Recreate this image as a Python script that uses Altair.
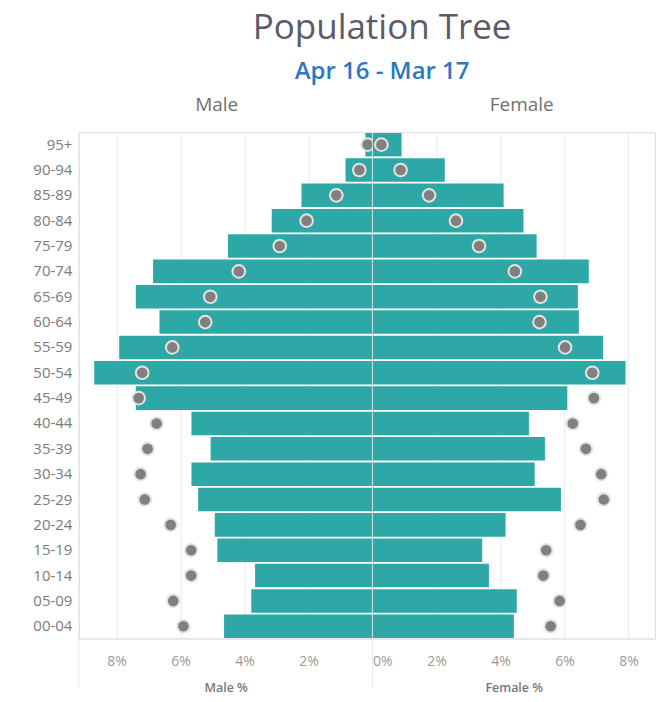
import altair as alt
import pandas as pd

ages = ["95+", "90-94", "85-89", "80-84", "75-79", "70-74", "65-69", "60-64",
        "55-59", "50-54", "45-49", "40-44", "35-39", "30-34", "25-29", "20-24",
        "15-19", "10-14", "05-09", "00-04"]
male_pct = [0.22, 0.84, 2.22, 3.15, 4.52, 6.86, 7.40, 6.66, 7.92, 8.70,
            7.40, 5.66, 5.06, 5.66, 5.45, 4.93, 4.85, 3.67, 3.79, 4.64]
male_ref = [0.15, 0.41, 1.13, 2.06, 2.90, 4.18, 5.07, 5.23, 6.26, 7.20,
            7.31, 6.75, 7.03, 7.25, 7.12, 6.31, 5.67, 5.67, 6.23, 5.91]
female_pct = [0.91, 2.26, 4.10, 4.72, 5.13, 6.76, 6.42, 6.45, 7.21, 7.91,
              6.09, 4.89, 5.39, 5.07, 5.89, 4.16, 3.43, 3.64, 4.51, 4.42]
female_ref = [0.28, 0.88, 1.77, 2.61, 3.33, 4.45, 5.25, 5.22, 6.02, 6.87,
              6.92, 6.26, 6.67, 7.15, 7.23, 6.50, 5.43, 5.34, 5.85, 5.57]
tick_values = [0, 2, 4, 6, 8]

df = pd.DataFrame({"age": ages, "male": male_pct, "male_ref": male_ref,
                   "female": female_pct, "female_ref": female_ref})

H = 507
WM = 294
WF = 283
MALE_MAX = 9.18
FEMALE_MAX = 8.83
FONT = "Open Sans"
TEAL = "#2ea8a7"
GRID = "#ececec"

yscale = alt.Scale(domain=ages, paddingInner=0.07, paddingOuter=0.02)


def panel(col, ref, xmax, reverse, head, axis_title, width, show_y, head_dx):
    if reverse:
        label_expr = "datum.value == 0 ? '' : datum.value + '%'"
        label_align = "center"
    else:
        label_expr = "datum.value + '%'"
        label_align = {"condition": {"test": "datum.value === 0", "value": "left"},
                       "value": "center"}
    xaxis = alt.Axis(values=tick_values, labelExpr=label_expr, title=axis_title,
                     grid=True, gridColor=GRID, ticks=False, domainColor="#e2e2e2",
                     labelFontSize=14, labelColor="#9a9a9a", labelPadding=16,
                     labelAlign=label_align, labelFont=FONT,
                     titleFont=FONT, titleFontSize=12.5, titleColor="#777777",
                     titleFontWeight=600, titlePadding=13)
    xscale = alt.Scale(domain=[0, xmax], reverse=reverse, nice=False, zero=True)
    if show_y:
        yaxis = alt.Axis(title=None, ticks=False, domain=False, grid=False,
                         labelFontSize=15, labelColor="#7a7a7a", labelPadding=7,
                         labelFont=FONT)
    else:
        yaxis = None
    base = alt.Chart(df)
    bars = base.mark_bar(color=TEAL).encode(
        x=alt.X(f"{col}:Q", scale=xscale, axis=xaxis),
        y=alt.Y("age:N", sort=ages, scale=yscale, axis=yaxis),
    )
    dots = base.mark_circle(size=160, color="#808080", opacity=1,
                            stroke="#e6e3dc", strokeWidth=2).encode(
        x=f"{ref}:Q",
        y=alt.Y("age:N", sort=ages),
    )
    top = alt.Chart(pd.DataFrame({"v": [0]})).mark_rule(color="#e8e8e8").encode(
        x=alt.value(0), x2=alt.value(width), y=alt.value(0))
    if reverse:
        edge = alt.Chart(pd.DataFrame({"v": [xmax]})).mark_rule(color="#e6e6e6").encode(
            x="v:Q", y=alt.value(0), y2=alt.value(H + 50))
    else:
        edge = alt.Chart(pd.DataFrame({"v": [0]})).mark_rule(color="#e4e4e4", opacity=0.85).encode(
            x="v:Q", y=alt.value(0), y2=alt.value(H + 50))
    return alt.layer(bars, edge, dots, top).properties(
        width=width, height=H,
        title=alt.TitleParams(head, fontSize=19, color="#707070", fontWeight="normal",
                              font=FONT, dx=head_dx, offset=17, anchor="middle"))


male = panel("male", "male_ref", MALE_MAX, True, "Male", "Male %", WM, True, -9)
female = panel("female", "female_ref", FEMALE_MAX, False, "Female", "Female %", WF, False, 8)

chart = alt.hconcat(male, female, spacing=0, bounds="flush").properties(
    padding={"left": 24, "top": 3, "right": 0, "bottom": 0},
    title=alt.TitleParams("Population Tree", subtitle="Apr 16 - Mar 17",
                          fontSize=35, font=FONT, fontWeight="normal", color="#5b5a6b",
                          subtitleFont=FONT, subtitleFontSize=24, subtitleColor="#2b78c5",
                          subtitleFontWeight=600, subtitlePadding=14,
                          anchor="middle", dx=38, offset=11),
).configure_view(stroke=None).configure(font=FONT)

chart.save("out.html", embed_options={"renderer": "svg", "actions": False})
